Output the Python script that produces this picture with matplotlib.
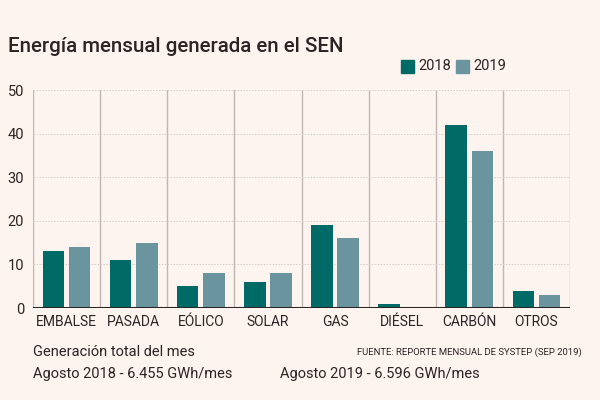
import matplotlib
matplotlib.use("Agg")
import matplotlib.pyplot as plt
import numpy as np
from matplotlib.patches import Rectangle

categories = ["EMBALSE", "PASADA", "EÓLICO", "SOLAR", "GAS", "DIÉSEL", "CARBÓN", "OTROS"]
v2018 = [13, 11, 5, 6, 19, 1, 42, 4]
v2019 = [14, 15, 8, 8, 16, 0, 36, 3]
years = ["2018", "2019"]
yticks = [0, 10, 20, 30, 40, 50]

BG = "#FDF4EF"
C18 = "#006B66"
C19 = "#6A949E"
TXT = "#2B2424"
FONT = ["Roboto", "DejaVu Sans"]
plt.rcParams["font.family"] = FONT

fig = plt.figure(figsize=(6, 4), dpi=100, facecolor=BG)
ax = fig.add_axes([0.055, 0.23, 0.895, 0.545], facecolor=BG)

x = np.arange(len(categories))
w = 0.32
ax.bar(x - 0.195, v2018, w, color=C18, zorder=3)
ax.bar(x + 0.195, v2019, w, color=C19, zorder=3)

ax.set_xlim(-0.5, len(categories) - 0.5)
ax.set_ylim(0, 50)
for b in np.arange(-0.5, len(categories), 1.0):
    ax.axvline(b, color="#BDB7B4", lw=1, zorder=1)
for t in yticks[1:]:
    ax.axhline(t, color="#D3CCC8", lw=0.7, ls=(0, (1.5, 1.5)), zorder=1)
ax.axhline(0, color="#2A2424", lw=2.2, zorder=4)

for s in ax.spines.values():
    s.set_visible(False)
ax.set_yticks(yticks)
ax.set_yticklabels([str(t) for t in yticks], fontsize=10.5, color=TXT)
ax.set_xticks(x)
ax.set_xticklabels(categories, fontsize=10, color=TXT)
ax.tick_params(length=0)
ax.tick_params(axis="y", pad=6.5)
ax.tick_params(axis="x", pad=5)

fig.text(0.013, 0.885, "Energía mensual generada en el SEN", fontsize=14.8, color=TXT,
         va="center", fontweight="medium")

# legend
for xl, c, lab in [(0.668, C18, years[0]), (0.760, C19, years[1])]:
    fig.patches.append(Rectangle((xl, 0.818), 0.022, 0.032, transform=fig.transFigure,
                                 color=c, figure=fig))
    fig.text(xl + 0.029, 0.834, lab, fontsize=10.5, color=TXT, va="center")

fig.text(0.055, 0.12, "Generación total del mes", fontsize=10.5, color=TXT, va="center")
fig.text(0.055, 0.065, "Agosto 2018 - 6.455 GWh/mes", fontsize=10.5, color=TXT, va="center")
fig.text(0.467, 0.065, "Agosto 2019 - 6.596 GWh/mes", fontsize=10.5, color=TXT, va="center")
fig.text(0.97, 0.12, "FUENTE: REPORTE MENSUAL DE SYSTEP (SEP 2019)", fontsize=6.8, color=TXT,
         va="center", ha="right")

fig.savefig("out.png", dpi=100, facecolor=BG)
